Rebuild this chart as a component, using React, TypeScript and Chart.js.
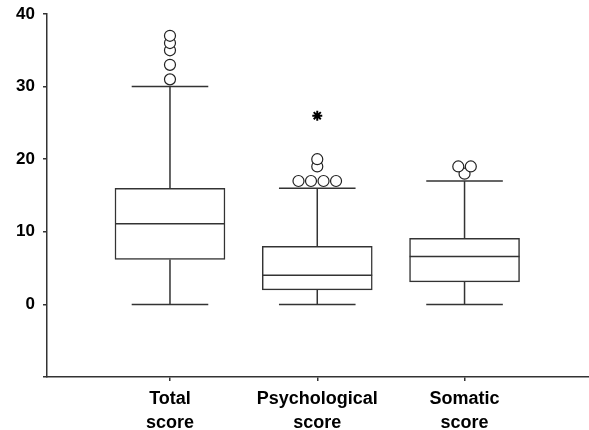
import React, { useEffect, useRef } from 'react';
import { Chart, registerables } from 'chart.js';

Chart.register(...registerables);

// ---- data ----
const categories: string[][] = [
  ['Total', 'score'],
  ['Psychological', 'score'],
  ['Somatic', 'score'],
];
const whiskerLow = [0, 0, 0];
const q1 = [6.2, 2.0, 3.1];
const median = [11.1, 4.0, 6.6];
const q3 = [16.0, 8.0, 9.1];
const whiskerHigh = [30, 16, 17];
const outliers: number[][] = [
  [31, 33, 35, 36, 37],
  [17, 17, 17, 17, 19, 20],
  [18, 19, 19],
];
const extremes: number[][] = [[], [26], []];
const yMin = -10;
const yMax = 40;
const yStep = 10;

// ---- styling (not data) ----
const X_MIN = 0.165;
const X_MAX = 3.845;
const BOX_HALF = 0.373; // in category units
const CAP_HALF = 0.26;
const JITTER = 0.085;
const LINE = '#333';
const FONT = "'Liberation Sans', Arial, Helvetica, sans-serif";

function jittered(values: number[][]) {
  const pts: { x: number; y: number }[] = [];
  values.forEach((vals, i) => {
    const counts = new Map<number, number>();
    vals.forEach((v) => counts.set(v, (counts.get(v) || 0) + 1));
    const seen = new Map<number, number>();
    vals.forEach((v) => {
      const n = counts.get(v)!;
      const k = seen.get(v) || 0;
      seen.set(v, k + 1);
      pts.push({ x: i + 1 + (k - (n - 1) / 2) * JITTER, y: v });
    });
  });
  return pts;
}

export default function App() {
  const ref = useRef<HTMLCanvasElement>(null);

  useEffect(() => {
    const xs = categories.map((_, i) => i + 1);
    const lineData: { x: number; y: number | null }[] = [];
    const seg = (x1: number, y1: number, x2: number, y2: number) => {
      lineData.push({ x: x1, y: y1 }, { x: x2, y: y2 }, { x: x2, y: null });
    };
    xs.forEach((x, i) => {
      seg(x, q3[i], x, whiskerHigh[i]);
      seg(x, whiskerLow[i], x, q1[i]);
      seg(x - CAP_HALF, whiskerHigh[i], x + CAP_HALF, whiskerHigh[i]);
      seg(x - CAP_HALF, whiskerLow[i], x + CAP_HALF, whiskerLow[i]);
      seg(x - BOX_HALF, median[i], x + BOX_HALF, median[i]);
    });

    const chart = new Chart(ref.current!, {
      type: 'scatter',
      data: {
        datasets: [
          {
            type: 'bar',
            data: xs.map((x, i) => ({ x, y: [q1[i], q3[i]] })) as any,
            backgroundColor: '#fff',
            borderColor: LINE,
            borderWidth: 1.5,
            borderSkipped: false,
            barThickness: 110,
            order: 3,
          } as any,
          {
            type: 'scatter',
            data: lineData as any,
            showLine: true,
            spanGaps: false,
            borderColor: LINE,
            borderWidth: 1.5,
            pointRadius: 0,
            order: 2,
          } as any,
          {
            type: 'scatter',
            data: jittered(outliers),
            pointStyle: 'circle',
            pointRadius: 5.5,
            backgroundColor: '#fff',
            borderColor: '#222',
            borderWidth: 1.2,
            order: 1,
          } as any,
          {
            type: 'scatter',
            data: jittered(extremes),
            pointStyle: 'star',
            pointRadius: 5,
            backgroundColor: '#000',
            borderColor: '#000',
            borderWidth: 2,
            order: 0,
          } as any,
        ],
      },
      options: {
        responsive: false,
        animation: false,
        events: [],
        layout: { autoPadding: false, padding: { top: 14, left: 0, right: 0, bottom: 0 } },
        plugins: { legend: { display: false }, tooltip: { enabled: false } },
        scales: {
          x: {
            type: 'linear',
            min: X_MIN,
            max: X_MAX,
            offset: false,
            afterBuildTicks: (s: any) => {
              s.ticks = xs.map((v) => ({ value: v }));
            },
            afterFit: (s: any) => {
              s.height = 53;
              s.paddingLeft = 0;
              s.paddingRight = 0;
            },
            grid: {
              offset: false,
              drawOnChartArea: false,
              drawTicks: true,
              tickLength: 4,
              color: LINE,
              lineWidth: 1.5,
            },
            border: { color: LINE, width: 1.5 },
            ticks: {
              autoSkip: false,
              maxRotation: 0,
              padding: 6.5,
              color: '#000',
              font: { family: FONT, size: 18, weight: 'bold', lineHeight: 1.3333 },
              callback: (v: any) => categories[Math.round(Number(v)) - 1] as any,
            },
          },
          y: {
            type: 'linear',
            min: yMin,
            max: yMax,
            afterFit: (s: any) => {
              s.width = 47;
              s.paddingTop = 0;
              s.paddingBottom = 0;
            },
            grid: {
              drawOnChartArea: false,
              drawTicks: true,
              tickLength: 4,
              color: LINE,
              lineWidth: 1.5,
            },
            border: { color: LINE, width: 1.5 },
            ticks: {
              stepSize: yStep,
              padding: 8,
              color: '#000',
              font: { family: FONT, size: 17, weight: 'bold' },
              callback: (v: any) => (Number(v) < 0 ? '' : String(v)),
            },
          },
        },
      } as any,
    });
    return () => chart.destroy();
  }, []);

  return (
    <div
      style={{
        position: 'fixed',
        left: 0,
        top: 0,
        width: 589,
        height: 430,
        background: '#fff',
      }}
    >
      <canvas ref={ref} width={589} height={430} style={{ display: 'block' }} />
    </div>
  );
}
